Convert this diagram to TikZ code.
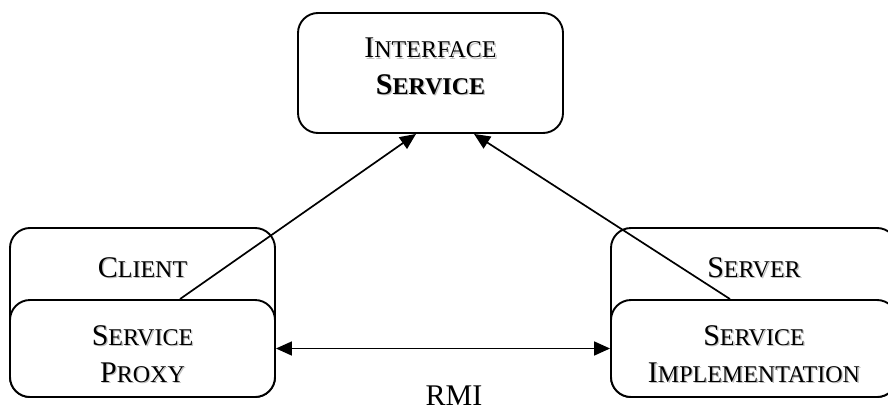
\documentclass[tikz,border=0pt]{standalone}
\usepackage{fontspec}
\setmainfont{Liberation Serif}
\usetikzlibrary{arrows.meta}

% small-caps look: large initial, smaller capitals after it
\newcommand\capword[2]{{\fontsize{30pt}{30pt}\selectfont #1}{\fontsize{24pt}{24pt}\selectfont #2}}
% text with a soft grey drop shadow
\newcommand\withshadow[1]{\leavevmode\rlap{\kern1.3pt\raisebox{-1.3pt}{\color{black!25}#1}}#1}

\begin{document}
\begin{tikzpicture}[x=1pt,y=-1pt,
  box/.style={draw=black, line width=1.9pt, rounded corners=20pt, fill=white,
              rectangle, inner sep=0pt, minimum width=265pt},
  lbl/.style={anchor=base, inner sep=0pt, font=\fontsize{30pt}{30pt}\selectfont},
  conn/.style={line width=1.7pt, -{Triangle[length=16pt,width=14pt]}},
  conn2/.style={line width=1.7pt, {Triangle[length=16pt,width=14pt]}-{Triangle[length=16pt,width=14pt]}}]

\useasboundingbox (0,0) rectangle (888,412);
\clip (0,0) rectangle (888,412);

% top box
\node[box, minimum height=120pt] (iface) at (430.5,73) {};

% client side: outer frame and the proxy box on top of it
\node[box, minimum height=169pt] (client) at (142.5,312.5) {};
\node[box, minimum height=97pt] (proxy) at (142.5,348.5) {};

% server side: outer frame and the implementation box on top of it
\node[box, minimum width=286pt, minimum height=169pt] (server) at (754,312.5) {};
\node[box, minimum width=286pt, minimum height=97pt] (impl) at (754,348.5) {};

% connectors
\draw[conn] ([xshift=37.5pt]proxy.north) -- ([xshift=-14.5pt]iface.south);
\draw[conn] ([xshift=-24pt]impl.north) -- ([xshift=43.5pt]iface.south);
\draw[conn2] (proxy.east) -- (impl.west);

% texts
\node[lbl] (t1) at (430.5,58) {\withshadow{\capword{I}{NTERFACE}}};
\node[lbl] (t2) at (430.5,94) {\bfseries\withshadow{\capword{S}{ERVICE}}};
\node[lbl] (t3) at (142.5,277) {\withshadow{\capword{C}{LIENT}}};
\node[lbl] (t4) at (142.5,345) {\withshadow{\capword{S}{ERVICE}}};
\node[lbl] (t5) at (142.5,382) {\withshadow{\capword{P}{ROXY}}};
\node[lbl] (t6) at (754,277) {\withshadow{\capword{S}{ERVER}}};
\node[lbl] (t7) at (754,345) {\withshadow{\capword{S}{ERVICE}}};
\node[lbl] (t8) at (754,382) {\withshadow{\capword{I}{MPLEMENTATION}}};
\node[lbl] (rmi) at (454,405) {RMI};
\end{tikzpicture}
\end{document}
